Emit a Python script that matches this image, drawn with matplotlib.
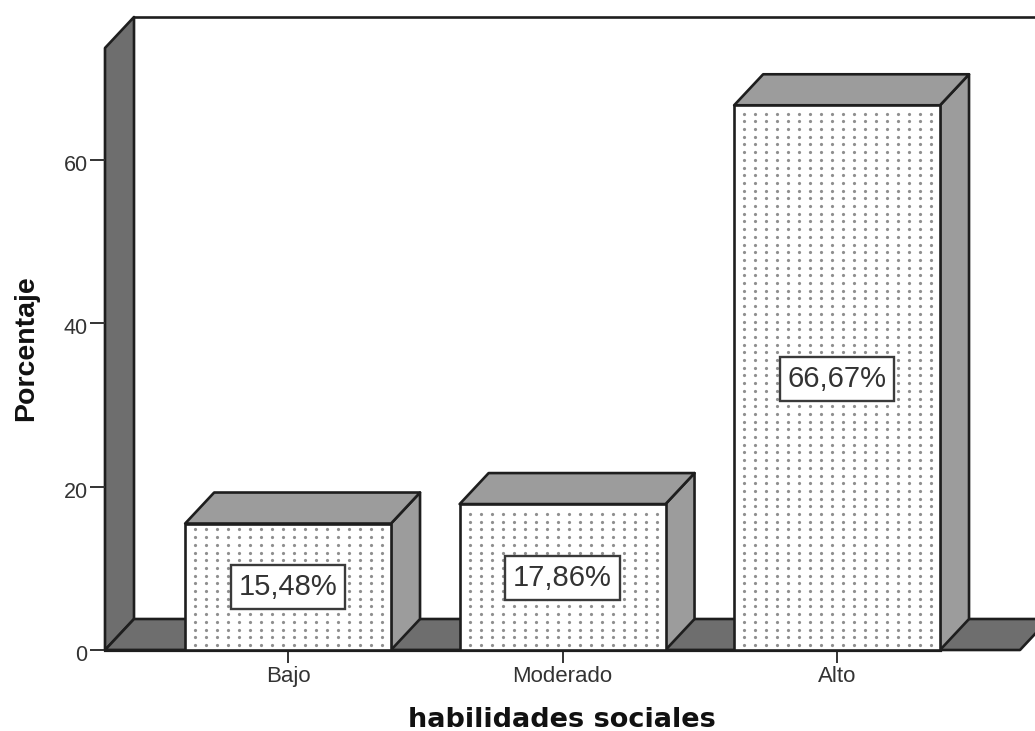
import matplotlib
matplotlib.use('Agg')
import matplotlib.pyplot as plt
from matplotlib.patches import Polygon
from matplotlib.transforms import ScaledTranslation
import numpy as np

plt.rcParams['font.family'] = ['Liberation Sans', 'DejaVu Sans']

categories = ['Bajo', 'Moderado', 'Alto']
percentages = [15.48, 17.86, 66.67]
value_labels = ['15,48%', '17,86%', '66,67%']
y_ticks = [0, 20, 40, 60]
label_heights = [7.7, 8.8, 33.2]

W, H = 1035, 731
fig = plt.figure(figsize=(W / 100, H / 100), dpi=100)
# axes box = front plane of the fake 3D chart
ax = fig.add_axes([105 / W, 1 - 650 / H, (W - 105) / W, (650 - 48) / H])
ax.set_xlim(-0.667, 2.721)
ax.set_ylim(0, 73.68)
ax.patch.set_alpha(0)
for s in ax.spines.values():
    s.set_visible(False)

px_x = 274.5   # pixels per category
px_y = 8.17    # pixels per percent
dx = 29 / px_x
dy = 31 / px_y
bar_w = 0.75
x0, x1 = ax.get_xlim()
ytop = ax.get_ylim()[1]
edge = '#1e1e1e'
lw = 1.9


def poly(pts, color, z):
    ax.add_patch(Polygon(pts, closed=True, fc=color, ec=edge, lw=lw, zorder=z,
                         clip_on=False, joinstyle='round'))


# walls and floor
poly([(x0, 0), (x0 + dx, dy), (x0 + dx, ytop + dy), (x0, ytop)], '#6e6e6e', 1)
floor_end = x1 - 15 / px_x
poly([(x0, 0), (x0 + dx, dy), (floor_end + dx, dy), (floor_end, 0)], '#6e6e6e', 1)
ax.plot([x0 + dx, x1 + 0.1], [ytop + dy, ytop + dy], color=edge, lw=lw,
        clip_on=False, zorder=1)
ax.plot([x0, 2 + bar_w / 2], [0, 0], color=edge, lw=lw + 0.4, clip_on=False, zorder=2)

for i, v in enumerate(percentages):
    l, r = i - bar_w / 2, i + bar_w / 2
    z = 3 + i
    poly([(r, 0), (r + dx, dy), (r + dx, v + dy), (r, v)], '#9c9c9c', z)
    poly([(l, v), (l + dx, v + dy), (r + dx, v + dy), (r, v)], '#9c9c9c', z)
    poly([(l, 0), (l, v), (r, v), (r, 0)], 'white', z)
    # dotted fill
    xs = np.arange(l + 10 / px_x, r - 2 / px_x, 11 / px_x)
    ys = np.arange(5 / px_y, v - 3 / px_y, 7.7 / px_y)
    gx, gy = np.meshgrid(xs, ys)
    ax.plot(gx.ravel(), gy.ravel(), ls='none', marker='o', ms=2.3, mew=0,
            color='#8f8f8f', zorder=z + 0.1)
    ax.text(i, label_heights[i], value_labels[i], ha='center', va='center',
            fontsize=21, color='#333333', zorder=10,
            bbox=dict(boxstyle='square,pad=0.27', fc='white', ec='#3a3a3a', lw=1.7))

ax.set_xticks(range(len(categories)))
ax.set_xticklabels(categories, fontsize=16, color='#333333')
ax.set_yticks(y_ticks)
ax.set_yticklabels([str(t) for t in y_ticks], fontsize=15.5, color='#333333')
ax.tick_params(axis='x', length=9, width=1.4, pad=2.5, color='#333333')
ax.tick_params(axis='y', length=11, width=1.4, pad=1.5, color='#333333')
# y labels sit slightly below their tick in the reference
shift = ScaledTranslation(0, -3 / 100, fig.dpi_scale_trans)
for t in ax.get_yticklabels():
    t.set_transform(t.get_transform() + shift)

fig.text(26 / W, 1 - 348 / H, 'Porcentaje', rotation=90, ha='center', va='center',
         fontsize=20.5, fontweight='bold', color='#111111')
fig.text(562 / W, 1 - 727 / H, 'habilidades sociales', ha='center', va='baseline',
         fontsize=19.5, fontweight='bold', color='#111111', family='DejaVu Sans')

fig.savefig('out.png', dpi=100)
